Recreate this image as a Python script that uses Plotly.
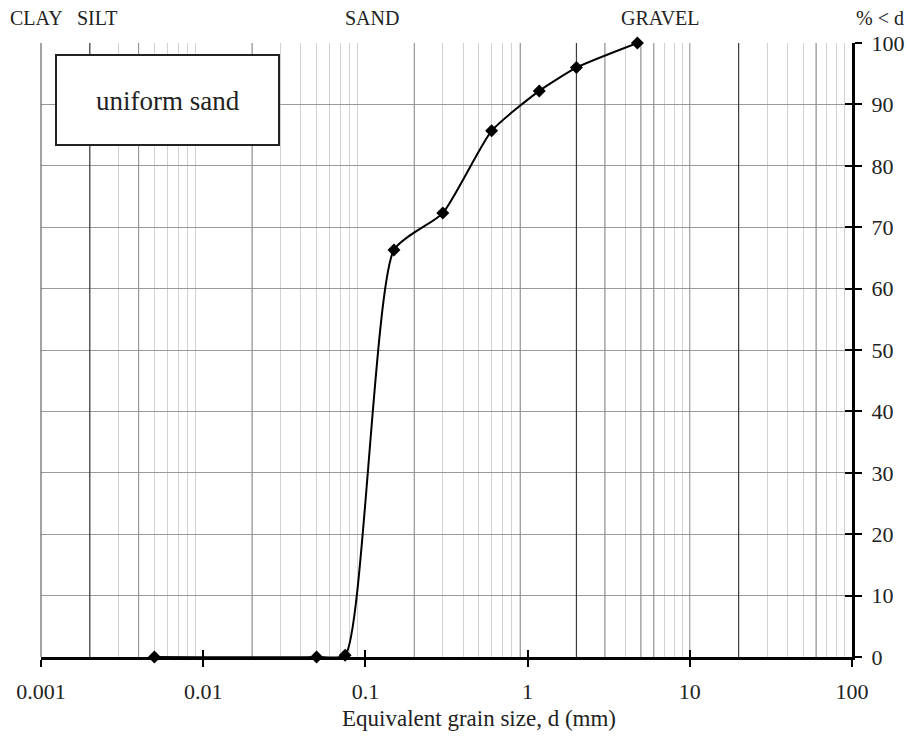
import plotly.graph_objects as go

# Sieve / hydrometer results for the sample
grain_size_mm = [0.005, 0.05, 0.075, 0.15, 0.3, 0.6, 1.18, 2.0, 4.75]
percent_finer = [0.0, 0.0, 0.3, 66.3, 72.3, 85.7, 92.2, 96.0, 100.0]

decade_ticks = [0.001, 0.01, 0.1, 1, 10, 100]
decade_labels = ["0.001", "0.01", "0.1", "1", "10", "100"]
percent_ticks = [0, 10, 20, 30, 40, 50, 60, 70, 80, 90, 100]

soil_classes = ["CLAY", "SILT", "SAND", "GRAVEL"]
class_label_px = [36, 97, 372, 660]

# Emphasised reference lines on the log grid
dark_lines = [0.002, 2, 20]
mid_lines = [0.004, 0.02, 0.2, 0.9, 3, 5, 6, 10, 60]

FONT = "Liberation Serif, Times New Roman, serif"
W, H = 907, 745
L, R, T, B = 41, 55, 43, 88
PW, PH = W - L - R, H - T - B


def px_x(px):
    return (px - L) / PW


def px_y(py):
    return (H - B - py) / PH


minor_vals = []
for e in range(-3, 2):
    for m in range(2, 10):
        minor_vals.append(m * 10 ** e)

fig = go.Figure()


def vlines(vals, color, width):
    xs, ys = [], []
    for v in vals:
        xs += [v, v, None]
        ys += [0, 100, None]
    fig.add_trace(go.Scatter(x=xs, y=ys, mode="lines", hoverinfo="skip",
                             line=dict(color=color, width=width),
                             showlegend=False))


vlines(mid_lines, "#8c8c8c", 1)
vlines(dark_lines, "#3a3a3a", 1.2)

fig.add_trace(go.Scatter(
    x=grain_size_mm, y=percent_finer,
    mode="lines+markers",
    line=dict(color="black", width=2, shape="spline", smoothing=0.55),
    marker=dict(symbol="diamond", size=10, color="black"),
    cliponaxis=False, showlegend=False,
))

# Invisible trace carrying the overlay axes that draw the inward ticks
fig.add_trace(go.Scatter(x=[1], y=[50], xaxis="x2", yaxis="y2",
                         mode="markers", marker=dict(opacity=0),
                         showlegend=False, hoverinfo="skip"))

tick_font = dict(family=FONT, size=22, color="#222")

fig.update_layout(
    width=W, height=H,
    margin=dict(l=L, r=R, t=T, b=B, autoexpand=False),
    paper_bgcolor="white", plot_bgcolor="white",
    xaxis=dict(
        type="log", range=[-3, 2], automargin=False,
        tickvals=decade_ticks, ticktext=decade_labels,
        ticks="outside", ticklen=7, tickwidth=2, tickcolor="black",
        tickfont=tick_font, ticklabelstandoff=6,
        showgrid=False, zeroline=False,
        showline=True, linecolor="black", linewidth=3,
        mirror=False,
        minor=dict(tickvals=minor_vals, showgrid=True,
                   gridcolor="#d2d2d2", gridwidth=1, ticks=""),
    ),
    yaxis=dict(
        range=[0, 100], side="right", automargin=False,
        tickvals=percent_ticks,
        ticks="outside", ticklen=7, tickwidth=2, tickcolor="black",
        tickfont=tick_font, ticklabelstandoff=5,
        showgrid=True, gridcolor="#9a9a9a", gridwidth=1,
        zeroline=False,
        showline=True, linecolor="black", linewidth=3,
    ),
    xaxis2=dict(
        type="log", range=[-3, 2], overlaying="x", anchor="y2",
        automargin=False,
        tickvals=decade_ticks, showticklabels=False,
        ticks="inside", ticklen=7, tickwidth=2, tickcolor="black",
        showgrid=False, zeroline=False, showline=False,
    ),
    yaxis2=dict(
        range=[0, 100], overlaying="y", side="right", anchor="x2",
        automargin=False,
        tickvals=percent_ticks, showticklabels=False,
        ticks="inside", ticklen=7, tickwidth=2, tickcolor="black",
        showgrid=False, zeroline=False, showline=False,
    ),
    shapes=[
        # left frame edge
        dict(type="line", xref="paper", yref="paper", x0=0, x1=0, y0=0, y1=1,
             line=dict(color="#444", width=1)),
        # label box
        dict(type="rect", xref="paper", yref="paper",
             x0=px_x(56), x1=px_x(279), y0=px_y(145), y1=px_y(55),
             fillcolor="white", line=dict(color="#222", width=2), layer="above"),
    ],
)


def label(text, px, py, size):
    return dict(text=text, xref="paper", yref="paper",
                x=px_x(px), y=px_y(py), xanchor="center", yanchor="middle",
                showarrow=False, font=dict(family=FONT, size=size, color="#222"))


annotations = [
    label("uniform sand", 168, 101, 27),
    label("Equivalent grain size, d (mm)", 479, 718, 23),
    label("% < d", 880, 18, 20),
]
for name, px in zip(soil_classes, class_label_px):
    annotations.append(label(name, px, 18, 20))
fig.update_layout(annotations=annotations)

fig.write_html("out.html")
